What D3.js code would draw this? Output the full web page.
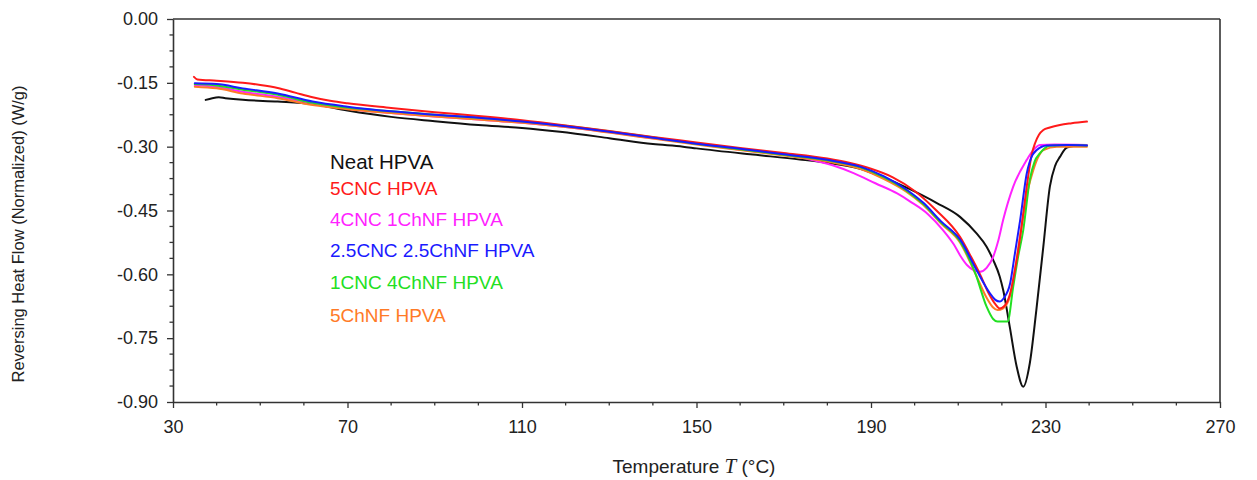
<!DOCTYPE html>
<html><head><meta charset="utf-8">
<script src="https://cdn.jsdelivr.net/npm/d3@7"></script>
<style>
body{margin:0;background:#fff;}
svg{display:block;font-family:"Liberation Sans",Arial,sans-serif;}
</style></head>
<body><svg id="chart" width="1257" height="480"></svg>
<script>
// ---- data ----
const seriesNames = ["Neat HPVA","5CNC HPVA","4CNC 1ChNF HPVA","2.5CNC 2.5ChNF HPVA","1CNC 4ChNF HPVA","5ChNF HPVA"];
const seriesColors = ["#111111","#ff1a1a","#ff22ff","#1a1aff","#22e022","#ff7a26"];

const neatT = [37.5,39,40.5,42,46,54,62,70,80,90,100,110,118.7,130,140,146.9,150,162.3,173.7,180,187.5,193,198.9,205,210.4,214.2,216.5,218,219.5,220.3,221.8,223.4,224.9,226.4,227.9,229.5,231,232.2,233.3,234.9,236.8];
const neatV = [-0.190,-0.186,-0.184,-0.186,-0.190,-0.194,-0.200,-0.215,-0.230,-0.240,-0.249,-0.256,-0.265,-0.280,-0.294,-0.300,-0.304,-0.318,-0.330,-0.338,-0.352,-0.373,-0.400,-0.432,-0.465,-0.504,-0.535,-0.566,-0.605,-0.637,-0.723,-0.817,-0.864,-0.809,-0.684,-0.535,-0.394,-0.345,-0.324,-0.302,-0.298];

const cnc5T = [34.8,35.6,40,46,50,54,58,62,66,70,80,90,100,110,120,130,140,150,160,170,180,185,190,195,200,205,210.4,213,215,217,218.5,219.5,220.5,221.9,223,224.2,225.7,226.8,227.6,228.5,229.5,231,233.3,236,239.5];
const cnc5V = [-0.136,-0.142,-0.145,-0.150,-0.155,-0.162,-0.173,-0.184,-0.192,-0.198,-0.209,-0.219,-0.228,-0.238,-0.250,-0.263,-0.277,-0.290,-0.303,-0.315,-0.328,-0.338,-0.352,-0.372,-0.404,-0.450,-0.512,-0.560,-0.600,-0.645,-0.670,-0.680,-0.675,-0.645,-0.590,-0.512,-0.394,-0.320,-0.292,-0.272,-0.261,-0.255,-0.249,-0.245,-0.241];

const cnc4T = [35,40,46,54,62,70,80,90,100,110,120,130,140,150,160,170,176,181,186,191,196,199,203,206.5,209,210.4,212,213.5,215,216.5,218,219.2,220.3,222.6,225.7,227.2,228.7,232,239.5];
const cnc4V = [-0.155,-0.160,-0.171,-0.183,-0.198,-0.211,-0.221,-0.229,-0.236,-0.244,-0.254,-0.266,-0.280,-0.294,-0.307,-0.319,-0.330,-0.343,-0.362,-0.386,-0.410,-0.429,-0.458,-0.496,-0.530,-0.555,-0.578,-0.590,-0.594,-0.585,-0.559,-0.520,-0.472,-0.394,-0.331,-0.308,-0.296,-0.295,-0.296];

const cnc25T = [35,40,46,54,62,70,80,90,100,110,120,130,140,150,160,170,180,187.5,193,198,202,206,210.4,214.2,217.3,218.5,219.5,220.5,221.9,223,224.2,225.7,227,228,230.3,235,239.5];
const cnc25V = [-0.151,-0.153,-0.163,-0.175,-0.194,-0.206,-0.217,-0.225,-0.232,-0.241,-0.252,-0.265,-0.279,-0.293,-0.305,-0.318,-0.331,-0.347,-0.370,-0.400,-0.432,-0.475,-0.518,-0.590,-0.645,-0.660,-0.664,-0.655,-0.621,-0.550,-0.472,-0.363,-0.320,-0.308,-0.297,-0.296,-0.297];

const cnc1T = [35,40,46,54,62,70,80,90,100,110,120,130,140,150,160,170,180,187.5,193,198,202,206,210.4,214,216.5,218,219,221.3,222.6,223.7,224.9,226.4,227.5,228.7,231,235,239.5];
const cnc1V = [-0.153,-0.156,-0.166,-0.178,-0.197,-0.208,-0.217,-0.225,-0.232,-0.240,-0.251,-0.264,-0.278,-0.293,-0.306,-0.319,-0.332,-0.348,-0.372,-0.402,-0.435,-0.478,-0.522,-0.600,-0.676,-0.705,-0.711,-0.711,-0.629,-0.560,-0.496,-0.378,-0.335,-0.316,-0.298,-0.296,-0.297];

const chnf5T = [35,40,46,54,62,70,80,90,100,110,120,130,140,150,160,170,180,187.5,193,198,202,206,210.4,214,216.5,218,219,220.3,221.9,223.3,224.5,226,227.2,228.3,229.5,232.6,239.5];
const chnf5V = [-0.159,-0.163,-0.175,-0.186,-0.202,-0.212,-0.221,-0.229,-0.236,-0.244,-0.254,-0.267,-0.281,-0.295,-0.308,-0.321,-0.335,-0.352,-0.376,-0.405,-0.437,-0.480,-0.525,-0.600,-0.655,-0.678,-0.684,-0.680,-0.650,-0.570,-0.488,-0.400,-0.355,-0.325,-0.308,-0.300,-0.300];

const xTicks = [30,70,110,150,190,230,270];
const yTicks = [0,-0.15,-0.30,-0.45,-0.60,-0.75,-0.90];
const yTickLabels = ["0.00","-0.15","-0.30","-0.45","-0.60","-0.75","-0.90"];

const allT = [neatT,cnc5T,cnc4T,cnc25T,cnc1T,chnf5T];
const allV = [neatV,cnc5V,cnc4V,cnc25V,cnc1V,chnf5V];

// ---- layout ----
const L = 173, R = 1220, T = 19, B = 402;
const svg = d3.select("#chart");
const x = d3.scaleLinear().domain([30,270]).range([L,R]);
const y = d3.scaleLinear().domain([-0.90,0]).range([B,T]);
const axisColor = "#333";

// minor ticks
const xMinor = d3.range(30,271,10).filter(v => !xTicks.includes(v));
const yMinor = d3.range(0,25).filter(i => i%4!==0).map(i => -i*0.0375);

const gx = svg.append("g").attr("transform",`translate(0,${B})`)
  .call(d3.axisBottom(x).tickValues(xTicks).tickFormat(d3.format("d")).tickSizeInner(6).tickSizeOuter(0).tickPadding(12));
gx.append("g").selectAll("line").data(xMinor).join("line")
  .attr("x1",d=>x(d)).attr("x2",d=>x(d)).attr("y1",0).attr("y2",3.5);

const gy = svg.append("g").attr("transform",`translate(${L},0)`)
  .call(d3.axisLeft(y).tickValues(yTicks).tickFormat((d,i)=>yTickLabels[i]).tickSizeInner(6).tickSizeOuter(0).tickPadding(9));
gy.append("g").selectAll("line").data(yMinor).join("line")
  .attr("y1",d=>y(d)).attr("y2",d=>y(d)).attr("x1",0).attr("x2",-3.5);

[gx,gy].forEach(g=>{
  g.selectAll("path.domain").attr("stroke",axisColor).attr("stroke-width",1.6);
  g.selectAll("line").attr("stroke",axisColor).attr("stroke-width",1.3);
  g.selectAll("text").attr("font-family","Liberation Sans, Arial, sans-serif").attr("font-size",18).attr("fill","#222");
});

// frame top/right
svg.append("line").attr("x1",L).attr("x2",R).attr("y1",T).attr("y2",T).attr("stroke",axisColor).attr("stroke-width",1.6);
svg.append("line").attr("x1",R).attr("x2",R).attr("y1",T).attr("y2",B).attr("stroke",axisColor).attr("stroke-width",1.6);

// curves
const line = d3.line().x(d=>x(d[0])).y(d=>y(d[1])).curve(d3.curveMonotoneX);
const drawOrder = [0,2,5,4,1,3];
drawOrder.forEach(i=>{
  const pts = allT[i].map((t,j)=>[t,allV[i][j]]);
  svg.append("path").datum(pts).attr("d",line)
    .attr("fill","none").attr("stroke",seriesColors[i]).attr("stroke-width",2)
    .attr("stroke-linejoin","round").attr("stroke-linecap","round");
});

// legend
const legendY = [169,195,226,257,289,322];
seriesNames.forEach((n,i)=>{
  svg.append("text").attr("x",330).attr("y",legendY[i])
    .attr("font-size", i===0?20.5:19).attr("fill",seriesColors[i]).text(n);
});

// axis titles
svg.append("text").attr("transform","translate(24,234) rotate(-90)")
  .attr("text-anchor","middle").attr("font-size",16.5).attr("fill","#222")
  .text("Reversing Heat Flow (Normalized) (W/g)");
const xt = svg.append("text").attr("x",694).attr("y",473).attr("text-anchor","middle")
  .attr("font-size",19).attr("fill","#222");
xt.append("tspan").text("Temperature ");
xt.append("tspan").attr("font-family","Liberation Serif, Times New Roman, serif").attr("font-style","italic").attr("font-size",21).text("T");
xt.append("tspan").text(" (°C)");
</script></body></html>
